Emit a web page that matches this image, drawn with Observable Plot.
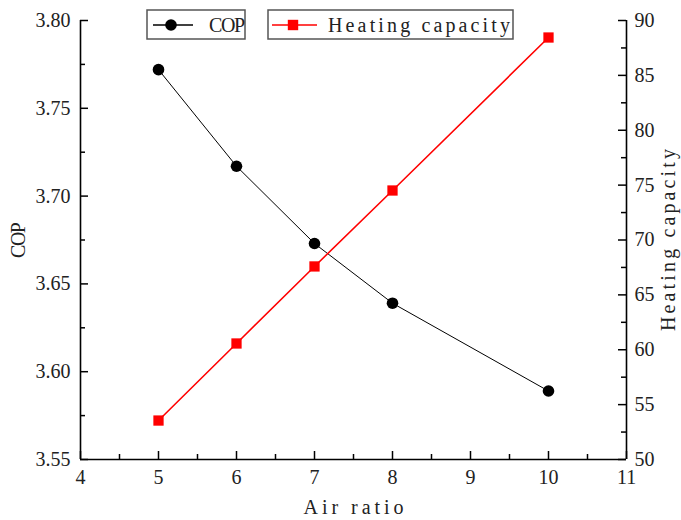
<!DOCTYPE html>
<html>
<head>
<meta charset="utf-8">
<script src="https://cdn.jsdelivr.net/npm/d3@7"></script>
<script src="https://cdn.jsdelivr.net/npm/@observablehq/plot@0.6"></script>
<style>
  html, body { margin: 0; padding: 0; background: #fff; }
  #wrap { position: relative; width: 681px; height: 520px; }
  #wrap svg text { font-family: "Liberation Serif", serif !important; }
  #legend { position: absolute; left: 0; top: 0; }
</style>
</head>
<body>
<div id="wrap"></div>
<script>
// ---- data ----
const airRatio = [5, 6, 7, 8, 10];
const cop = [3.772, 3.717, 3.673, 3.639, 3.589];
const heating = [53.55, 60.57, 67.59, 74.51, 88.45];
const xTicks = [4, 5, 6, 7, 8, 9, 10, 11];
const xMinor = [4.5, 5.5, 6.5, 7.5, 8.5, 9.5, 10.5];
const copTicks = [3.55, 3.60, 3.65, 3.70, 3.75, 3.80];
const copMinor = [3.575, 3.625, 3.675, 3.725, 3.775];
const heatTicks = [50, 55, 60, 65, 70, 75, 80, 85, 90];
const heatMinor = [52.5, 57.5, 62.5, 67.5, 72.5, 77.5, 82.5, 87.5];
const seriesNames = ["COP", "Heating capacity"];
const copDomain = [3.55, 3.80];
const heatDomain = [50, 90];
const xDomain = [4, 11];

// map heating capacity onto the COP scale (right axis)
const toY = h => copDomain[0] + (h - heatDomain[0]) * (copDomain[1] - copDomain[0]) / (heatDomain[1] - heatDomain[0]);
const fromY = v => heatDomain[0] + (v - copDomain[0]) * (heatDomain[1] - heatDomain[0]) / (copDomain[1] - copDomain[0]);

const copData = airRatio.map((x, i) => ({x, v: cop[i]}));
const heatData = airRatio.map((x, i) => ({x, v: heating[i]}));

const chart = Plot.plot({
  width: 681,
  height: 520,
  marginLeft: 80,
  marginRight: 55,
  marginTop: 20,
  marginBottom: 61,
  style: {fontFamily: "'Liberation Serif', serif", fontSize: "20px", color: "#222", background: "#fff"},
  x: {domain: xDomain},
  y: {domain: copDomain},
  marks: [
    // axis lines
    Plot.ruleX(xDomain, {x: d => d, y1: copDomain[0], y2: copDomain[1], stroke: "#000", strokeWidth: 1.6}),
    Plot.ruleY([copDomain[0]], {y: d => d, x1: xDomain[0], x2: xDomain[1], stroke: "#000", strokeWidth: 1.6}),
    // inward ticks: bottom
    Plot.ruleX(xTicks, {x: d => d, y1: copDomain[0], y2: copDomain[0], insetTop: -8, stroke: "#000", strokeWidth: 1.5}),
    Plot.ruleX(xMinor, {x: d => d, y1: copDomain[0], y2: copDomain[0], insetTop: -5, stroke: "#000", strokeWidth: 1.5}),
    // left
    Plot.ruleY(copTicks, {y: d => d, x1: xDomain[0], x2: xDomain[0], insetRight: -8, stroke: "#000", strokeWidth: 1.5}),
    Plot.ruleY(copMinor, {y: d => d, x1: xDomain[0], x2: xDomain[0], insetRight: -5, stroke: "#000", strokeWidth: 1.5}),
    // right
    Plot.ruleY(heatTicks.map(toY), {y: d => d, x1: xDomain[1], x2: xDomain[1], insetLeft: -8, stroke: "#000", strokeWidth: 1.5}),
    Plot.ruleY(heatMinor.map(toY), {y: d => d, x1: xDomain[1], x2: xDomain[1], insetLeft: -5, stroke: "#000", strokeWidth: 1.5}),
    // axes (labels only)
    Plot.axisX({ticks: xTicks, tickSize: 0, tickPadding: 10, tickFormat: d => String(d),
      label: "Air ratio", labelAnchor: "center", labelArrow: "none", labelOffset: 54}),
    Plot.axisY({anchor: "left", ticks: copTicks, tickSize: 0, tickPadding: 10, tickFormat: d => d.toFixed(2),
      label: "COP", labelAnchor: "center", labelArrow: "none", labelOffset: 70}),
    Plot.axisY({anchor: "right", ticks: heatTicks.map(toY), tickSize: 0, tickPadding: 8,
      tickFormat: d => String(Math.round(fromY(d))),
      label: "Heating capacity", labelAnchor: "center", labelArrow: "none", labelOffset: 54}),
    // series
    Plot.line(copData, {x: "x", y: "v", stroke: "#000", strokeWidth: 1}),
    Plot.dot(copData, {x: "x", y: "v", r: 5.8, fill: "#000", symbol: "circle"}),
    Plot.line(heatData, {x: "x", y: d => toY(d.v), stroke: "#ff0000", strokeWidth: 1.6}),
    Plot.dot(heatData, {x: "x", y: d => toY(d.v), r: 5.8, fill: "#ff0000", symbol: "square"})
  ]
});

const wrap = document.getElementById("wrap");
wrap.appendChild(chart);

// stretch the axis titles to the reference widths (monospaced look)
const titleLen = {"Air ratio": 100, "COP": 36, "Heating capacity": 182};
d3.select(chart).selectAll('g[aria-label$="axis label"] text').each(function () {
  const t = this.textContent.trim();
  if (titleLen[t]) d3.select(this).attr("textLength", titleLen[t]).attr("lengthAdjust", "spacing");
});
// pull the right title in so it is not cut
d3.select(chart).selectAll('g[aria-label="y-axis label"] text').each(function () {
  if (this.textContent.trim() === "Heating capacity") {
    const tr = this.getAttribute("transform") || "";
    this.setAttribute("transform", tr.replace(/translate\(([-\d.]+),([-\d.]+)\)/, (m, a, b) => `translate(${+a - 6},${b})`));
  }
});

// legend overlay
const legendItems = [
  {name: seriesNames[0], color: "#000", shape: "circle", box: [147, 245], line: [153, 193], sym: 171, text: 209, len: 36},
  {name: seriesNames[1], color: "#ff0000", shape: "square", box: [268, 513], line: [272, 317], sym: 293, text: 328, len: 182}
];
const lg = d3.select(wrap).append("svg").attr("id", "legend").attr("width", 681).attr("height", 50);
for (const it of legendItems) {
  lg.append("rect").attr("x", it.box[0]).attr("y", 10).attr("width", it.box[1] - it.box[0]).attr("height", 29)
    .attr("fill", "#fff").attr("stroke", "#555").attr("stroke-width", 1.5);
  lg.append("line").attr("x1", it.line[0]).attr("x2", it.line[1]).attr("y1", 25).attr("y2", 25)
    .attr("stroke", it.color).attr("stroke-width", 1.5);
  if (it.shape === "circle") lg.append("circle").attr("cx", it.sym).attr("cy", 25).attr("r", 5.8).attr("fill", it.color);
  else lg.append("rect").attr("x", it.sym - 5.2).attr("y", 25 - 5.2).attr("width", 10.4).attr("height", 10.4).attr("fill", it.color);
  lg.append("text").attr("x", it.text).attr("y", 32).attr("font-size", 20).attr("fill", "#222")
    .attr("textLength", it.len).attr("lengthAdjust", "spacing").text(it.name);
}
</script>
</body>
</html>
